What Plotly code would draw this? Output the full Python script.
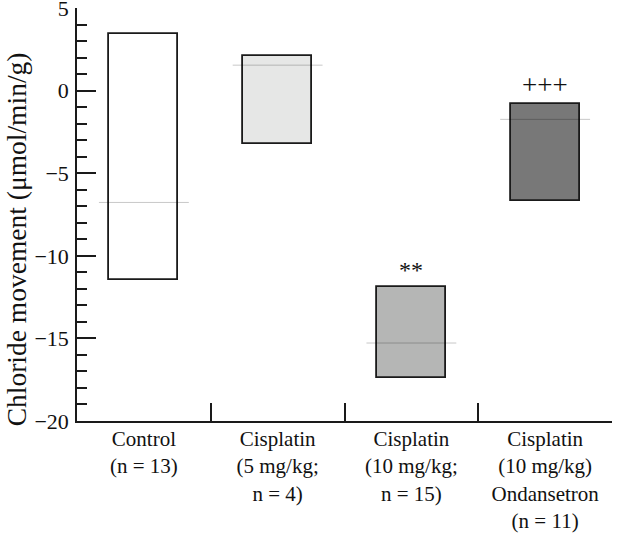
import plotly.graph_objects as go

categories = ["Control<br>(n = 13)",
              "Cisplatin<br>(5 mg/kg;<br>n = 4)",
              "Cisplatin<br>(10 mg/kg;<br>n = 15)",
              "Cisplatin<br>(10 mg/kg)<br>Ondansetron<br>(n = 11)"]
high_vals = [3.42, 2.09, -11.9, -0.79]
low_vals = [-11.47, -3.22, -17.41, -6.67]
median_vals = [-6.77, 1.54, -15.28, -1.74]
signif_labels = ["", "", "**", "+++"]
signif_sizes = [22, 22, 24, 27]
fill_colors = ["#ffffff", "#e6e7e6", "#b5b6b5", "#787878"]
y_ticks = [-20, -15, -10, -5, 0, 5]

idx = list(range(len(categories)))

fig = go.Figure()
fig.add_trace(go.Bar(
    x=idx,
    y=[h - l for h, l in zip(high_vals, low_vals)],
    base=low_vals,
    width=0.515,
    marker=dict(color=fill_colors, line=dict(color="#1a1a1a", width=1.8)),
    showlegend=False,
    hoverinfo="skip",
))

half = 0.336
mx, my = [], []
for i, m in zip(idx, median_vals):
    mx += [i - half, i + half, None]
    my += [m, m, None]
fig.add_trace(go.Scatter(x=mx, y=my, mode="lines",
                         line=dict(color="rgba(0,0,0,0.22)", width=1),
                         showlegend=False, hoverinfo="skip"))

for i, h, s, fs in zip(idx, high_vals, signif_labels, signif_sizes):
    if s:
        fig.add_annotation(x=i, y=h, text=s, showarrow=False,
                           yanchor="bottom", yshift=2,
                           font=dict(size=fs, color="#111111",
                                     family="Liberation Serif"))

fig.add_annotation(xref="paper", yref="paper", x=-0.114, y=0.44,
                   text="Chloride movement (μmol/min/g)", textangle=-90,
                   showarrow=False, xanchor="center", yanchor="middle",
                   font=dict(size=27.5, color="#111111",
                             family="Liberation Serif"))

fig.update_layout(
    width=640, height=535,
    margin=dict(l=77, r=28, t=8, b=114),
    paper_bgcolor="white", plot_bgcolor="white",
    font=dict(family="Liberation Serif", size=22, color="#111111"),
    bargap=0,
)
fig.update_xaxes(
    range=[-0.5, 3.5], automargin=False,
    tickvals=idx, ticktext=categories,
    tickfont=dict(size=21),
    ticks="inside", ticklen=0, ticklabelstandoff=-2,
    minor=dict(tickvals=[0.5, 1.5, 2.5, 3.5], ticks="inside",
               ticklen=18, tickwidth=1.5, tickcolor="#1a1a1a"),
    showline=True, linecolor="#1a1a1a", linewidth=1.5,
    showgrid=False, zeroline=False,
)
fig.update_yaxes(
    range=[-20.001, 5.001], automargin=False,
    tickvals=y_ticks, ticklabeloverflow="allow",
    ticks="inside", ticklen=19, tickwidth=1.5, tickcolor="#1a1a1a",
    ticklabelstandoff=2,
    minor=dict(dtick=1, ticks="inside", ticklen=10, tickwidth=1.5,
               tickcolor="#1a1a1a"),
    showline=True, linecolor="#1a1a1a", linewidth=1.5,
    showgrid=False, zeroline=False,
)

fig.write_html("out.html",
               config={"displayModeBar": False},
               post_script="document.body.style.margin='0';"
                           "document.body.style.overflow='hidden';")
